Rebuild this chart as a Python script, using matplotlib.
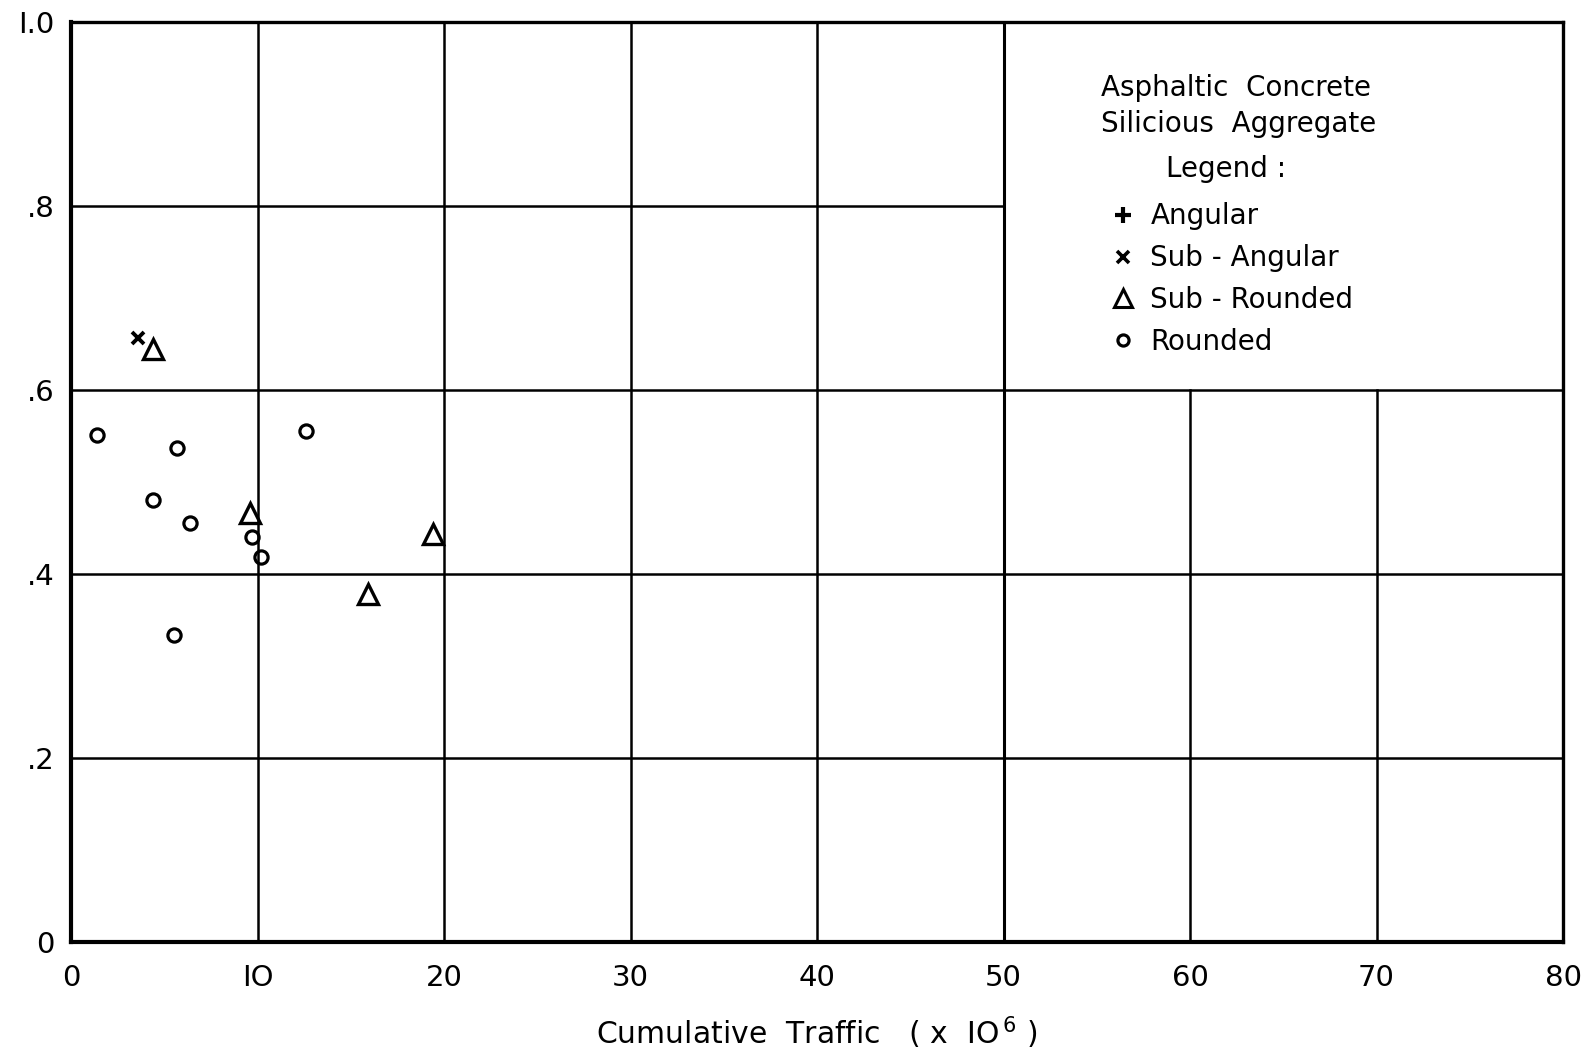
import matplotlib
matplotlib.use("Agg")
import matplotlib.pyplot as plt
from matplotlib.lines import Line2D

# Data
sub_angular_x = [3.6]
sub_angular_y = [0.657]
sub_rounded_x = [4.4, 9.6, 15.9, 19.4]
sub_rounded_y = [0.645, 0.466, 0.378, 0.444]
rounded_x = [1.4, 5.7, 4.4, 6.4, 9.7, 10.2, 12.6, 5.5]
rounded_y = [0.551, 0.537, 0.481, 0.456, 0.440, 0.419, 0.556, 0.334]

x_ticks = [0, 10, 20, 30, 40, 50, 60, 70, 80]
x_ticklabels = ["0", "IO", "20", "30", "40", "50", "60", "70", "80"]
y_ticks = [0, 0.2, 0.4, 0.6, 0.8, 1.0]
y_ticklabels = ["0", ".2", ".4", ".6", ".8", "I.0"]

plt.rcParams['font.family'] = ['DejaVu Sans']
fig = plt.figure(figsize=(15.93, 10.51), dpi=100)
ax = fig.add_axes([0.0446, 0.1037, 0.9366, 0.8753])
ax.set_xlim(0, 80)
ax.set_ylim(0, 1.0)

# Grid (legend box region left blank)
gc = 'black'
for xv in [10, 20, 30, 40]:
    ax.plot([xv, xv], [0, 1.0], color=gc, lw=1.8, zorder=1)
ax.plot([50, 50], [0, 1.0], color=gc, lw=2.2, zorder=1)
for xv in [60, 70]:
    ax.plot([xv, xv], [0, 0.6], color=gc, lw=1.8, zorder=1)
for yv in [0.2, 0.4, 0.6]:
    ax.plot([0, 80], [yv, yv], color=gc, lw=1.8, zorder=1)
ax.plot([0, 50], [0.8, 0.8], color=gc, lw=1.8, zorder=1)

for s in ax.spines.values():
    s.set_linewidth(2.4)
ax.spines['left'].set_linewidth(3.0)
ax.spines['bottom'].set_linewidth(3.0)

ax.set_xticks(x_ticks)
ax.set_xticklabels(x_ticklabels)
ax.set_yticks(y_ticks)
ax.set_yticklabels(y_ticklabels)
ax.tick_params(axis='x', length=0, labelsize=21, pad=16)
ax.tick_params(axis='y', length=0, labelsize=21, pad=12)

ms_kw = dict(linestyle='none', markerfacecolor='none', markeredgecolor='black', zorder=3)
ax.plot(sub_angular_x, sub_angular_y, marker='x', markersize=9, markeredgewidth=2.8, **ms_kw)
ax.plot(sub_rounded_x, sub_rounded_y, marker='^', markersize=15, markeredgewidth=2.4, **ms_kw)
ax.plot(rounded_x, rounded_y, marker='o', markersize=9.5, markeredgewidth=2.3, **ms_kw)

ax.set_xlabel(r'Cumulative  Traffic   ( x  IO$^{\,6}$ )', fontsize=21.5, labelpad=16)

# Legend block
tkw = dict(fontsize=20, color='black', va='center', ha='left')
ax.text(55.2, 0.928, 'Asphaltic  Concrete', **tkw)
ax.text(55.2, 0.889, 'Silicious  Aggregate', **tkw)
ax.text(58.7, 0.840, 'Legend :', **tkw)

handles = [
    Line2D([], [], marker='+', markersize=11, markeredgewidth=3, **ms_kw),
    Line2D([], [], marker='x', markersize=8, markeredgewidth=2.6, **ms_kw),
    Line2D([], [], marker='^', markersize=13, markeredgewidth=2.2, **ms_kw),
    Line2D([], [], marker='o', markersize=8, markeredgewidth=2.3, **ms_kw),
]
labels = ['Angular', 'Sub - Angular', 'Sub - Rounded', 'Rounded']
ax.legend(handles, labels, loc='upper left', bbox_to_anchor=(0.696, 0.804),
          frameon=False, fontsize=20, handlelength=1.0, handletextpad=0.47,
          labelspacing=0.5, borderaxespad=0, borderpad=0)

fig.savefig('out.png', dpi=100)
